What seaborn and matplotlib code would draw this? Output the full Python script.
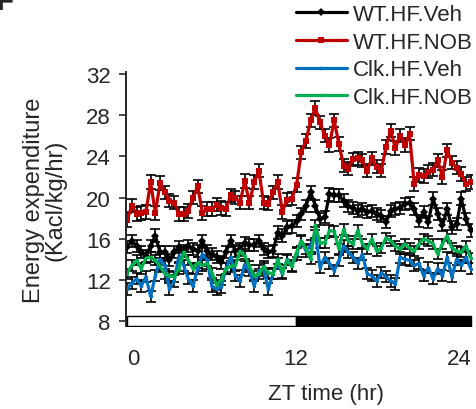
import numpy as np
import pandas as pd
import matplotlib
matplotlib.use("Agg")
import matplotlib.pyplot as plt
import seaborn as sns

# ZT time grid (hr), one point per ~21 min cage cycle
zt = np.linspace(-0.45, 24.85, 74)

wt_veh = [15.2, 15.8, 15.3, 14.7, 14.3, 15.3, 16.3, 14.7, 14.7, 13.9,
          14.7, 15.2, 14.8, 15.3, 15.0, 14.8, 15.8, 14.8, 14.5, 14.2,
          13.7, 14.7, 15.8, 14.8, 15.0, 15.6, 15.4, 15.4, 15.8, 15.0,
          14.7, 14.8, 16.6, 16.3, 17.1, 17.2, 17.7, 18.4,
          19.2, 20.5, 19.2, 17.9, 18.1, 20.3, 20.2, 20.2, 19.7, 19.2,
          19.0, 18.7, 18.9, 18.6, 18.7, 18.4, 18.2, 17.6, 18.7, 18.9,
          19.0, 19.4, 19.5, 18.9, 17.7, 18.6, 17.6, 19.9, 18.4, 17.3,
          18.9, 17.1, 17.4, 19.9, 17.9, 16.8]

wt_nob = [17.8, 19.2, 18.4, 18.5, 18.6, 21.5, 18.5, 21.4, 20.5, 19.7,
          19.5, 18.4, 18.4, 18.7, 20.0, 21.1, 18.5, 18.9, 18.9, 19.3,
          19.0, 18.9, 20.2, 20.0, 19.5, 21.6, 19.5, 21.5, 22.6, 19.5,
          19.4, 20.5, 21.5, 18.6, 19.8, 19.9, 21.2, 24.4,
          25.5, 27.5, 28.7, 27.3, 26.0, 25.1, 27.5, 25.2, 23.1, 22.8,
          23.7, 23.8, 23.6, 22.6, 23.8, 23.0, 22.6, 24.9, 26.5, 24.8,
          26.0, 25.1, 26.2, 21.3, 22.2, 22.1, 22.5, 22.7, 23.6, 22.0,
          24.6, 23.4, 22.9, 22.3, 21.3, 21.5]

clk_veh = [11.1, 11.7, 12.1, 11.4, 12.3, 10.4, 12.4, 14.0, 13.4, 11.1,
           11.9, 14.3, 13.4, 12.1, 11.4, 13.1, 14.5, 13.9, 11.4, 11.1,
           11.3, 13.1, 14.2, 12.4, 11.9, 13.5, 12.9, 11.4, 12.9, 13.1,
           11.1, 12.6, 13.6, 12.6, 14.0, 13.4, 14.5, 15.8,
           14.8, 15.3, 16.6, 13.2, 14.2, 13.6, 12.9, 13.9, 15.3, 14.7,
           14.2, 13.6, 14.5, 12.6, 12.4, 11.9, 12.7, 12.3, 11.9, 11.6,
           14.2, 14.0, 13.9, 13.4, 13.6, 12.4, 13.2, 12.1, 13.1, 12.4,
           14.2, 12.3, 14.0, 13.4, 14.2, 13.1]

clk_nob = [12.6, 13.4, 13.9, 13.1, 14.1, 14.2, 13.9, 13.3, 12.6, 12.4,
           12.3, 13.1, 14.7, 13.9, 13.1, 13.7, 13.4, 13.6, 12.7, 11.5,
           12.0, 13.1, 13.3, 13.4, 14.8, 14.3, 13.3, 12.4, 12.6, 13.3,
           12.7, 12.6, 14.0, 12.7, 13.9, 13.3, 14.7, 15.8,
           15.0, 14.0, 17.3, 15.6, 15.6, 16.8, 16.7, 15.0, 16.9, 15.8,
           15.5, 16.8, 15.5, 15.0, 16.0, 14.8, 15.1, 16.1, 15.8, 15.3,
           15.0, 15.5, 15.1, 14.8, 15.5, 16.0, 15.8, 15.5, 14.5, 15.5,
           16.3, 15.1, 14.8, 14.7, 15.3, 14.1]

# approximate SEM per group
sem = {"WT.HF.Veh": 0.6, "WT.HF.NOB": 0.65, "Clk.HF.Veh": 0.55, "Clk.HF.NOB": 0.5}

groups = ["WT.HF.Veh", "WT.HF.NOB", "Clk.HF.Veh", "Clk.HF.NOB"]
values = [wt_veh, wt_nob, clk_veh, clk_nob]
colors = ["#000000", "#C00000", "#0070C0", "#00B050"]
markers = ["D", "s", "o", "o"]
msizes = [4.0, 4.8, 2.6, 2.6]

df = pd.DataFrame({"ZT": np.tile(zt, 4),
                   "EE": np.concatenate(values),
                   "group": np.repeat(groups, len(zt))})

sns.set_style("ticks")
plt.rcParams["font.family"] = ["Liberation Sans", "DejaVu Sans"]
plt.rcParams["font.size"] = 16

fig = plt.figure(figsize=(4.76, 4.10), dpi=100)
ax = fig.add_axes([0.265, 0.202, 0.727, 0.620])

for g, c, m, ms in zip(groups, colors, markers, msizes):
    d = df[df["group"] == g]
    ax.errorbar(d["ZT"], d["EE"], yerr=sem[g], fmt="none",
                ecolor="black", elinewidth=1.2, capsize=3.5, capthick=1.2,
                zorder=1)
    sns.lineplot(data=d, x="ZT", y="EE", color=c, marker=m,
                 markersize=ms, markeredgewidth=0, linewidth=2.3,
                 label=g, ax=ax, zorder=2)

# light / dark bar
ax.broken_barh([(-0.45, 12.45)], (7.55, 0.9), facecolors="white",
               edgecolor="black", linewidth=1.0, zorder=3)
ax.broken_barh([(12.0, 12.85)], (7.55, 0.9), facecolors="black",
               edgecolor="black", linewidth=1.0, zorder=3)

ax.set_xlim(-0.52, 24.96)
ax.set_ylim(7.5, 32.2)
ax.set_yticks([8, 12, 16, 20, 24, 28, 32])
ax.set_xticks([0, 12, 24])
ax.tick_params(axis="y", length=5, width=1.2, pad=6, labelsize=16)
ax.tick_params(axis="x", length=0, pad=16, labelsize=16)

sns.despine(ax=ax, bottom=True)
ax.spines["left"].set_linewidth(1.4)

ax.set_xlabel("ZT time (hr)", fontsize=16)
ax.xaxis.set_label_coords(0.578, -0.222)
ax.set_ylabel("Energy expenditure\n(Kacl/kg/hr)", fontsize=17, linespacing=1.0)
ax.yaxis.set_label_coords(-0.172, 0.5)

ax.get_legend().remove()
h, l = ax.get_legend_handles_labels()
fig.legend(h, l, loc="upper left", bbox_to_anchor=(0.617, 0.993),
           frameon=False, fontsize=16, handlelength=2.3, handletextpad=0.25,
           labelspacing=0.3, borderpad=0.1, borderaxespad=0)

fig.text(-0.008, 0.976, "F", fontsize=20, fontweight="bold", va="baseline")

fig.savefig("out.png", dpi=100)
